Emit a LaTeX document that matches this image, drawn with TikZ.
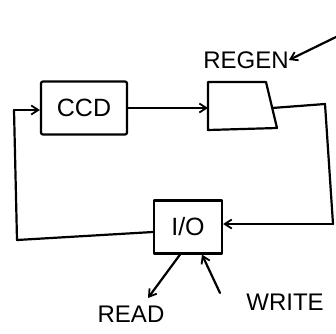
\documentclass[tikz,border=0pt]{standalone}
\usepackage{fontspec}
\setmainfont{Liberation Sans}
\usetikzlibrary{arrows.meta}
\begin{document}
\begin{tikzpicture}[x=1pt,y=-1pt,
  ink/.style={line width=2.2pt, line cap=round, line join=round},
  arr/.style={ink, -{Straight Barb[length=7pt,width=9pt,line width=1.8pt]}},
  lab/.style={font=\fontsize{24}{24}\selectfont, inner sep=0pt},
  boxlab/.style={font=\fontsize{25}{25}\selectfont, inner sep=0pt}]
\useasboundingbox (0,0) rectangle (336,333);
% CCD block
\node[ink, draw, rounded corners=2pt, minimum width=86pt, minimum height=53pt, boxlab] (ccd) at (84,108) {CCD};
% REGEN block (slanted right edge)
\coordinate (rtl) at (208,82);
\coordinate (rtr) at (266,82);
\coordinate (rbr) at (277,128);
\coordinate (rbl) at (208,130);
\draw[ink] (rtl) -- (rtr) -- (rbr) -- (rbl) -- cycle;
\node[lab] (regenlab) at (246,60) {REGEN};
\coordinate (rsrc) at (336,37);
% I/O block
\node[ink, draw, minimum width=68pt, minimum height=53pt, boxlab] (io) at (188,227) {I/O};
% labels
\node[lab] (read) at (131,314) {READ};
\node[lab] (write) at (285,302) {WRITE};
% connectors
\draw[arr] (ccd.east) -- (rtl|-ccd.east);
\draw[ink] (272,108) -- (325,104) coordinate (c1) -- (333,224) coordinate (c2);
\draw[arr] (c2) -- (io.east|-c2);
\draw[ink] (io.west|-c2) ++(0,8) coordinate (c3) -- (17,240) coordinate (c4) -- (14,110) coordinate (c5);
\draw[arr] (c5) -- (ccd.west|-c5);
\draw[arr] (rsrc) -- (regenlab.east);
\coordinate (readtop) at (148,298);
\coordinate (writetop) at (220,293);
\draw[arr] ([xshift=-8pt]io.south) -- (readtop);
\draw[arr] (writetop) -- ([xshift=14pt]io.south);
\end{tikzpicture}
\end{document}
